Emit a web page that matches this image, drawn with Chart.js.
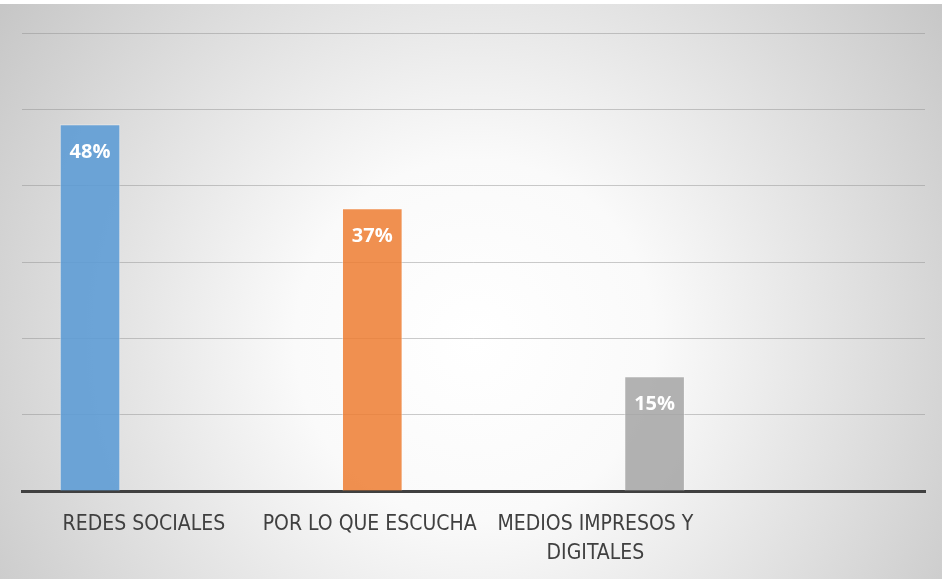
<!DOCTYPE html>
<html>
<head>
<meta charset="utf-8">
<script src="https://cdn.jsdelivr.net/npm/chart.js@4.4.0/dist/chart.umd.min.js"></script>
<style>
  html, body { margin: 0; padding: 0; background: #fff; }
  #wrap { width: 942px; height: 579px; }
</style>
</head>
<body>
<div id="wrap"><canvas id="myChart" width="942" height="579"></canvas></div>
<script>
var categories = ['REDES SOCIALES', 'POR LO QUE ESCUCHA', ['MEDIOS IMPRESOS Y', 'DIGITALES']];
var values = [48, 37, 15];
var barColors = ['rgba(91,155,213,0.88)', 'rgba(237,125,49,0.85)', 'rgba(165,165,165,0.85)'];
var yTicks = [0, 10, 20, 30, 40, 50, 60];

// gray radial background like the office chart area
var background = {
  id: 'background',
  beforeDraw: function (chart) {
    var c = chart.ctx;
    var w = chart.width, h = chart.height;
    var g = c.createRadialGradient(475, 340, 0, 475, 340, 600);
    g.addColorStop(0, '#ffffff');
    g.addColorStop(0.3, '#fafafa');
    g.addColorStop(1, '#c4c4c4');
    c.save();
    c.fillStyle = '#ffffff';
    c.fillRect(0, 0, w, h);
    c.fillStyle = g;
    c.fillRect(0, 4, w, h - 4);
    c.restore();
  }
};

var barLabels = {
  id: 'barLabels',
  afterDatasetsDraw: function (chart) {
    var c = chart.ctx;
    var meta = chart.getDatasetMeta(0);
    c.save();
    c.font = 'bold 20px "Open Sans", sans-serif';
    c.fillStyle = '#ffffff';
    c.textAlign = 'center';
    c.textBaseline = 'middle';
    meta.data.forEach(function (bar, i) {
      c.fillText(values[i] + '%', bar.x, bar.y + 28);
    });
    c.restore();
  }
};

var ctx = document.getElementById('myChart');

var data = {
  datasets: [{
    label: '',
    data: values.map(function (v, i) { return { x: i, y: v }; }),
    backgroundColor: barColors,
    borderColor: 'rgba(255,255,255,0.35)',
    borderWidth: 1,
    borderSkipped: 'bottom',
    barThickness: 60
  }]
};

var myChart = new Chart(ctx, {
  type: 'bar',
  data: data,
  plugins: [background, barLabels],
  options: {
    responsive: false,
    animation: false,
    layout: { padding: { left: 22, right: 17, top: 33, bottom: -8 } },
    plugins: { legend: { display: false }, tooltip: { enabled: false } },
    scales: {
      x: {
        type: 'linear',
        display: false,
        offset: false,
        min: -0.241,
        max: 2.958
      },
      x2: {
        type: 'category',
        position: 'bottom',
        labels: categories.concat(['']),
        offset: true,
        grid: { display: false, drawTicks: false },
        border: { display: true, color: '#404040', width: 3 },
        ticks: {
          autoSkip: false,
          maxRotation: 0,
          labelOffset: 9,
          padding: 19,
          color: '#404040',
          font: { family: '"Liberation Sans Narrow", "DejaVu Sans Condensed", sans-serif', size: 21, lineHeight: 1.38 }
        }
      },
      y: {
        min: 0,
        max: 60,
        afterBuildTicks: function (axis) {
          axis.ticks = yTicks.map(function (v) { return { value: v }; });
        },
        ticks: { display: false },
        grid: { color: 'rgba(140,140,140,0.45)', lineWidth: 1, drawTicks: false },
        border: { display: false }
      }
    }
  }
});
</script>
</body>
</html>
